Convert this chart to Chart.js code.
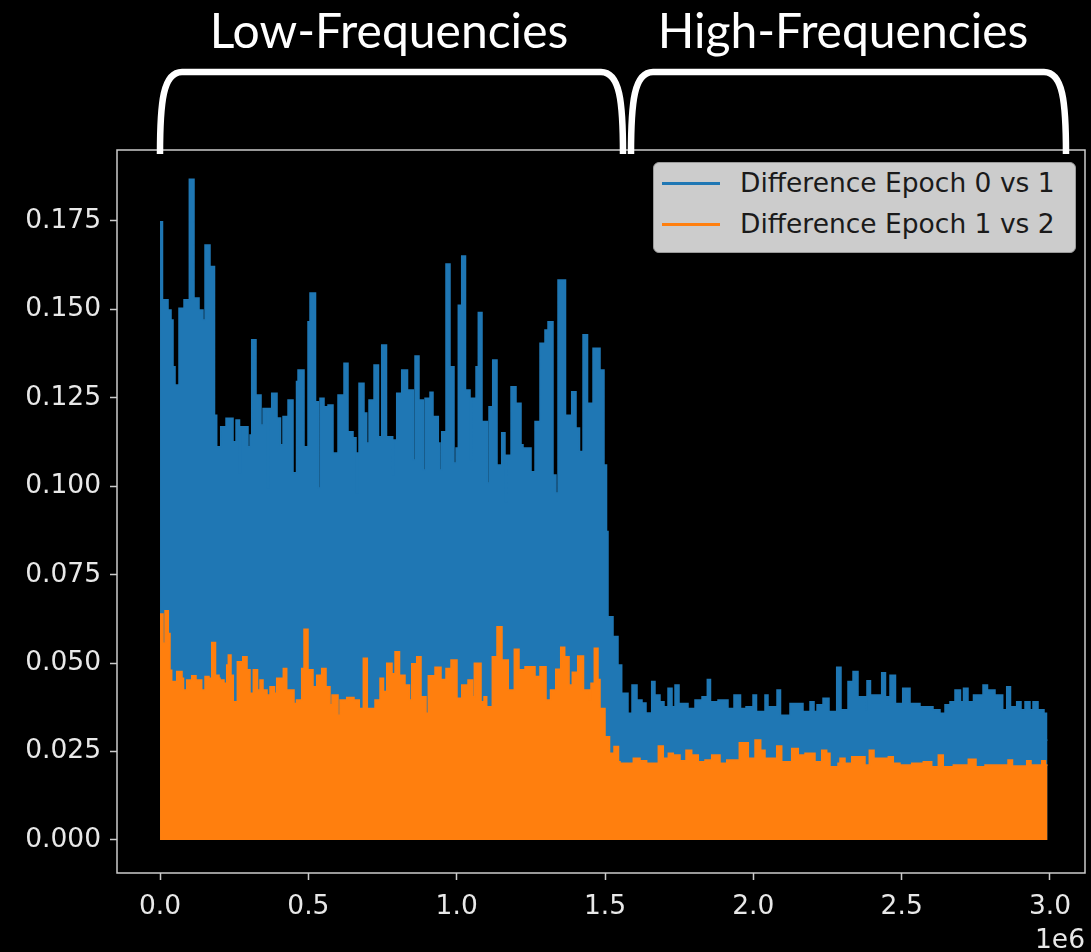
<!DOCTYPE html>
<html lang="en">
<head>
  <meta charset="UTF-8">
  <title>Difference between epochs</title>
  <script src="https://cdn.jsdelivr.net/npm/chart.js"></script>
  <style>
    body { margin: 0; background: #000; }
    #wrap { position: relative; width: 1091px; height: 952px; background: #000; overflow: hidden; }
    .band { position: absolute; top: 6px; height: 48px; line-height: 48px; font-family: Lato, "Open Sans", sans-serif; font-size: 48px; color: #fff; text-align: center; white-space: nowrap; }
    #legend { position: absolute; left: 653px; top: 162px; width: 423px; height: 91px; background: #cccccc; border: 1px solid #9a9a9a; border-radius: 6px; box-sizing: border-box; }
    .lg-line { position: absolute; left: 8px; width: 58px; height: 3px; }
    .lg-text { position: absolute; left: 86px; height: 32px; line-height: 32px; font-family: "DejaVu Sans", sans-serif; font-size: 26.5px; color: #1a1a1a; white-space: nowrap; }
    #offset { position: absolute; right: 6px; top: 923px; line-height: 32px; font-family: "DejaVu Sans", sans-serif; font-size: 26.5px; color: #e8e8e8; }
  </style>
</head>
<body>
<div id="wrap">
  <canvas id="chart" width="1091" height="952"></canvas>
  <div class="band" style="left:189px; width:400px;">Low-Frequencies</div>
  <div class="band" style="left:643px; width:400px;">High-Frequencies</div>
  <div id="legend">
    <div class="lg-line" style="top:19px; background:#1f77b4;"></div>
    <div class="lg-text" style="top:4px;">Difference Epoch 0 vs 1</div>
    <div class="lg-line" style="top:60px; background:#ff7f0e;"></div>
    <div class="lg-text" style="top:45px;">Difference Epoch 1 vs 2</div>
  </div>
  <div id="offset">1e6</div>
</div>

<script>
// envelope of each curve: [sample index, level]
// each level holds until the next entry (stepped line)
const diff01 = [
  [0,0.1748],[8400,0.1527],[27000,0.1498],[37100,0.1470],[43800,0.1338],[50600,0.1286],[64000,0.1503],[80900,0.1527],
  [98800,0.1868],[114600,0.1532],[131500,0.1498],[144900,0.1470],[151700,0.1682],[168500,0.1621],[183700,0.1201],[191100,0.1112],
  [204600,0.1168],[222500,0.1192],[246100,0.1126],[256200,0.1187],[268000,0.1038],[273000,0.1168],[296600,0.1112],[303400,0.1145],
  [309100,0.1414],[323600,0.1258],[340500,0.1173],[347200,0.1220],[360700,0.0995],[365700,0.1220],[376500,0.1263],[394400,0.1193],
  [406200,0.1117],[414600,0.1197],[431500,0.1244],[448300,0.1038],[460100,0.1296],[465200,0.1329],[485400,0.1112],[498900,0.1465],
  [505600,0.1546],[524200,0.1239],[533600,0.0995],[539300,0.1249],[552800,0.1225],[566300,0.1230],[583100,0.1094],[600000,0.1258],
  [620200,0.1348],[633700,0.1154],[650600,0.1137],[660700,0.0981],[665700,0.1094],[670800,0.1291],[687600,0.1207],[696800,0.1122],
  [704500,0.1244],[721400,0.1343],[736500,0.1140],[747300,0.1399],[763500,0.1140],[784400,0.1032],[788800,0.1131],[797900,0.1263],
  [814700,0.1329],[834300,0.1272],[853800,0.1074],[859600,0.1368],[873000,0.1244],[887500,0.1046],[893300,0.1249],[910100,0.1266],
  [920200,0.1197],[938100,0.1122],[943800,0.1046],[949500,0.1154],[964000,0.1628],[977500,0.1338],[991000,0.1066],[997800,0.1108],
  [1005500,0.1512],[1017000,0.1651],[1029800,0.1272],[1045000,0.1074],[1050000,0.1249],[1065200,0.1338],[1072900,0.1491],[1085400,0.1183],
  [1103300,0.1009],[1109000,0.1225],[1121500,0.1357],[1136000,0.1060],[1151800,0.1151],[1162900,0.0956],[1168000,0.1088],[1183200,0.1281],
  [1200000,0.1235],[1216900,0.1117],[1223600,0.1108],[1250600,0.1041],[1264100,0.1183],[1280900,0.1404],[1297700,0.1442],[1307900,0.1465],
  [1324700,0.1032],[1334800,0.0981],[1341600,0.1583],[1366900,0.1201],[1387800,0.1267],[1402300,0.1165],[1414100,0.1098],[1425900,0.1428],
  [1441100,0.1235],[1459600,0.1390],[1483200,0.1329],[1496600,0.1060],[1505100,0.0872],[1510100,0.0631],[1527000,0.0575],[1543800,0.0495],
  [1556300,0.0415],[1577500,0.0358],[1591000,0.0438],[1607900,0.0396],[1624700,0.0387],[1638200,0.0359],[1657400,0.0448],[1668500,0.0410],
  [1685400,0.0391],[1698900,0.0377],[1712400,0.0429],[1725900,0.0377],[1736000,0.0438],[1749500,0.0386],[1779800,0.0372],[1803400,0.0396],
  [1827000,0.0405],[1844900,0.0454],[1855600,0.0391],[1880900,0.0396],[1914600,0.0372],[1934800,0.0410],[1956800,0.0372],[1975300,0.0377],
  [1998900,0.0410],[2010700,0.0363],[2039300,0.0410],[2049400,0.0377],[2079800,0.0424],[2091600,0.0353],[2123600,0.0386],[2167400,0.0363],
  [2191100,0.0391],[2204600,0.0363],[2214700,0.0382],[2234900,0.0401],[2255100,0.0363],[2281000,0.0488],[2295500,0.0368],[2319100,0.0448],
  [2336000,0.0476],[2352800,0.0405],[2379800,0.0368],[2383100,0.0450],[2394900,0.0410],[2432700,0.0473],[2445500,0.0405],[2460700,0.0466],
  [2479200,0.0386],[2503500,0.0429],[2528100,0.0386],[2561800,0.0377],[2605600,0.0368],[2629200,0.0358],[2646100,0.0382],[2662900,0.0391],
  [2679800,0.0424],[2698300,0.0391],[2708400,0.0429],[2723600,0.0391],[2742100,0.0410],[2774200,0.0438],[2789300,0.0424],[2814600,0.0410],
  [2840600,0.0368],[2854100,0.0433],[2866900,0.0377],[2887700,0.0391],[2902300,0.0368],[2915800,0.0391],[2932600,0.0368],[2942700,0.0391],
  [2959600,0.0368],[2979800,0.0358],[2988200,0.0283],[2991600,0.0283]
];

const diff12 = [
  [0,0.0639],[10100,0.0556],[16900,0.0648],[28000,0.0584],[33700,0.0480],[39400,0.0448],[56300,0.0476],[74200,0.0457],
  [79200,0.0424],[90000,0.0452],[106900,0.0464],[121300,0.0452],[140600,0.0424],[151700,0.0462],[165200,0.0457],[174300,0.0558],
  [187100,0.0466],[198900,0.0457],[202200,0.0452],[215700,0.0443],[224800,0.0495],[230200,0.0523],[239300,0.0466],[247100,0.0391],
  [260600,0.0504],[278800,0.0518],[293300,0.0481],[303400,0.0415],[314500,0.0481],[328700,0.0424],[337100,0.0452],[347200,0.0424],
  [360700,0.0410],[370800,0.0433],[386000,0.0415],[393400,0.0457],[415600,0.0485],[427100,0.0424],[451700,0.0386],[460100,0.0396],
  [477600,0.0485],[485400,0.0596],[498900,0.0481],[515700,0.0433],[528200,0.0466],[545000,0.0485],[559600,0.0433],[573000,0.0382],
  [579800,0.0410],[600000,0.0353],[606700,0.0396],[629300,0.0403],[653900,0.0396],[671800,0.0372],[685300,0.0514],[698800,0.0372],
  [724700,0.0396],[741600,0.0457],[753400,0.0420],[764200,0.0500],[782000,0.0470],[792200,0.0532],[807300,0.0466],[825800,0.0438],
  [841000,0.0396],[848500,0.0498],[865300,0.0518],[879800,0.0405],[896700,0.0358],[904400,0.0464],[927000,0.0488],[947200,0.0454],
  [964000,0.0485],[980900,0.0509],[1001100,0.0401],[1017000,0.0438],[1038200,0.0452],[1053400,0.0405],[1059500,0.0500],[1082100,0.0391],
  [1092200,0.0405],[1101300,0.0377],[1120100,0.0518],[1135900,0.0603],[1152800,0.0509],[1174000,0.0424],[1194300,0.0539],[1210100,0.0481],
  [1230300,0.0490],[1264100,0.0462],[1280900,0.0490],[1301200,0.0396],[1316300,0.0424],[1333900,0.0483],[1350700,0.0545],[1364200,0.0518],
  [1378800,0.0438],[1389800,0.0474],[1408000,0.0520],[1427600,0.0424],[1447800,0.0396],[1452800,0.0443],[1463900,0.0542],[1476400,0.0454],
  [1483200,0.0372],[1500000,0.0292],[1515300,0.0245],[1530400,0.0264],[1545500,0.0221],[1550600,0.0217],[1595400,0.0231],[1618000,0.0224],
  [1640500,0.0217],[1679700,0.0266],[1696500,0.0231],[1713400,0.0245],[1730200,0.0240],[1752900,0.0224],[1773000,0.0254],[1792300,0.0240],
  [1814500,0.0221],[1837100,0.0226],[1859700,0.0240],[1887700,0.0217],[1910300,0.0226],[1952700,0.0275],[1983100,0.0231],[2005700,0.0283],
  [2024900,0.0254],[2039400,0.0231],[2078800,0.0266],[2095700,0.0221],[2129400,0.0259],[2151600,0.0240],[2174200,0.0245],[2207900,0.0221],
  [2230500,0.0254],[2247300,0.0245],[2258400,0.0207],[2285400,0.0217],[2292100,0.0231],[2309000,0.0217],[2331600,0.0235],[2376400,0.0212],
  [2390900,0.0254],[2406800,0.0231],[2455000,0.0235],[2471800,0.0217],[2494400,0.0212],[2533800,0.0217],[2572900,0.0221],[2601300,0.0207],
  [2623500,0.0240],[2640300,0.0207],[2674100,0.0212],[2724600,0.0228],[2750600,0.0207],[2780900,0.0212],[2858500,0.0226],[2873600,0.0209],
  [2921500,0.0224],[2936000,0.0212],[2972000,0.0224],[2984900,0.0212],[2991600,0.0212]
];

const xTicks = [0, 500000, 1000000, 1500000, 2000000, 2500000, 3000000];
const yTicks = [0, 0.025, 0.05, 0.075, 0.1, 0.125, 0.15, 0.175];

const axisColor = '#cccccc';
const labelColor = '#e8e8e8';

// frame + the two braces above the plot
const decorPlugin = {
  id: 'decor',
  afterDraw(chart) {
    const ctx = chart.ctx;
    const a = chart.chartArea;
    ctx.save();
    ctx.strokeStyle = axisColor;
    ctx.lineWidth = 1.5;
    ctx.strokeRect(a.left, a.top, a.right - a.left, a.bottom - a.top);

    ctx.strokeStyle = '#ffffff';
    ctx.lineWidth = 6.5;
    const brace = (x0, x1, yTop, yBot) => {
      ctx.beginPath();
      ctx.moveTo(x0, yBot);
      ctx.bezierCurveTo(x0, yTop + 30, x0 + 3, yTop, x0 + 22, yTop);
      ctx.lineTo(x1 - 22, yTop);
      ctx.bezierCurveTo(x1 - 3, yTop, x1, yTop + 30, x1, yBot);
      ctx.stroke();
    };
    brace(160, 623, 72, 154);
    brace(631, 1066, 72, 154);
    ctx.restore();
  }
};

new Chart(document.getElementById('chart'), {
  type: 'line',
  data: {
    datasets: [
      {
        label: 'Difference Epoch 0 vs 1',
        data: diff01.map(p => ({ x: p[0], y: p[1] })),
        borderColor: '#1f77b4',
        backgroundColor: '#1f77b4',
        borderWidth: 1.5,
        fill: 'origin',
        stepped: true,
        pointRadius: 0,
        order: 1
      },
      {
        label: 'Difference Epoch 1 vs 2',
        data: diff12.map(p => ({ x: p[0], y: p[1] })),
        borderColor: '#ff7f0e',
        backgroundColor: '#ff7f0e',
        borderWidth: 1.5,
        fill: 'origin',
        stepped: true,
        pointRadius: 0,
        order: 0
      }
    ]
  },
  options: {
    responsive: false,
    animation: false,
    layout: { padding: { top: 150, right: 6, left: 0, bottom: 0 } },
    plugins: {
      legend: { display: false },
      tooltip: { enabled: false }
    },
    scales: {
      x: {
        type: 'linear',
        min: -145000,
        max: 3118000,
        afterFit: s => { s.height = 79; },
        afterBuildTicks: s => { s.ticks = xTicks.map(v => ({ value: v })); },
        border: { display: false },
        grid: { drawOnChartArea: false, drawTicks: true, tickLength: 7, tickWidth: 1.5, tickColor: axisColor },
        ticks: {
          color: labelColor,
          padding: 11,
          maxRotation: 0,
          font: { family: 'DejaVu Sans', size: 26.5 },
          callback: v => (v / 1e6).toFixed(1)
        }
      },
      y: {
        min: -0.00933,
        max: 0.19506,
        afterFit: s => { s.width = 117; },
        afterBuildTicks: s => { s.ticks = yTicks.map(v => ({ value: v })); },
        border: { display: false },
        grid: { drawOnChartArea: false, drawTicks: true, tickLength: 7, tickWidth: 1.5, tickColor: axisColor },
        ticks: {
          color: labelColor,
          padding: 9,
          font: { family: 'DejaVu Sans', size: 26.5 },
          callback: v => v.toFixed(3)
        }
      }
    }
  },
  plugins: [decorPlugin]
});
</script>
</body>
</html>
